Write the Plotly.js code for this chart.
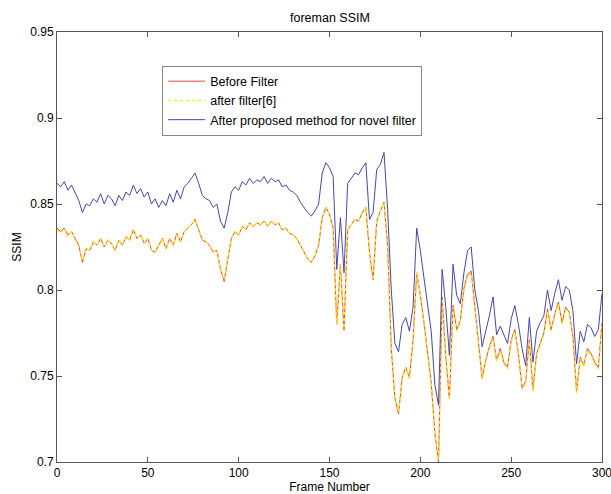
<!DOCTYPE html>
<html>
<head>
<meta charset="utf-8">
<script src="https://cdn.plot.ly/plotly-3.0.1.min.js"></script>
<style>html,body{margin:0;padding:0;background:#fff}#chart{width:611px;height:494px}</style>
</head>
<body>
<div id="chart"></div>
<script>
const frames = [0,2,4,6,8,10,12,14,16,18,20,22,24,26,28,30,32,34,36,38,40,42,44,46,48,50,52,54,56,58,60,62,64,66,68,70,72,74,76,78,80,82,84,86,88,90,92,94,96,98,100,102,104,106,108,110,112,114,116,118,120,122,124,126,128,130,132,134,136,138,140,142,144,146,148,150,152,154,156,158,160,162,164,166,168,170,172,174,176,178,180,182,184,186,188,190,192,194,196,198,200,202,204,206,208,210,212,214,216,218,220,222,224,226,228,230,232,234,236,238,240,242,244,246,248,250,252,254,256,258,260,262,264,266,268,270,272,274,276,278,280,282,284,286,288,290,292,294,296,298,300];

const beforeFilter = [0.836,0.834,0.836,0.832,0.834,0.830,0.826,0.816,0.824,0.823,0.828,0.826,0.830,0.825,0.829,0.827,0.823,0.829,0.826,0.831,0.829,0.835,0.830,0.832,0.827,0.830,0.823,0.822,0.826,0.830,0.824,0.830,0.826,0.833,0.828,0.834,0.836,0.838,0.841,0.835,0.829,0.828,0.826,0.822,0.823,0.812,0.805,0.818,0.830,0.834,0.832,0.837,0.835,0.839,0.837,0.839,0.838,0.840,0.837,0.840,0.838,0.839,0.835,0.836,0.833,0.832,0.830,0.826,0.822,0.818,0.816,0.820,0.826,0.842,0.848,0.844,0.836,0.780,0.815,0.777,0.835,0.838,0.841,0.840,0.845,0.848,0.822,0.806,0.840,0.846,0.851,0.826,0.766,0.737,0.728,0.749,0.755,0.749,0.771,0.810,0.797,0.781,0.762,0.746,0.717,0.700,0.796,0.761,0.737,0.791,0.777,0.782,0.801,0.809,0.811,0.791,0.771,0.749,0.759,0.767,0.773,0.759,0.766,0.758,0.755,0.771,0.777,0.763,0.743,0.747,0.771,0.742,0.763,0.769,0.775,0.789,0.777,0.786,0.793,0.781,0.790,0.787,0.773,0.741,0.761,0.756,0.766,0.763,0.758,0.755,0.781];

const afterFilter6 = [0.835,0.833,0.836,0.831,0.834,0.829,0.825,0.817,0.824,0.823,0.828,0.826,0.830,0.825,0.829,0.827,0.823,0.829,0.826,0.831,0.829,0.835,0.830,0.832,0.827,0.830,0.823,0.822,0.826,0.830,0.824,0.830,0.826,0.833,0.828,0.834,0.836,0.838,0.841,0.835,0.829,0.828,0.826,0.822,0.823,0.812,0.806,0.818,0.830,0.834,0.832,0.837,0.835,0.839,0.837,0.839,0.838,0.840,0.837,0.840,0.838,0.839,0.835,0.836,0.833,0.832,0.830,0.826,0.822,0.818,0.816,0.820,0.826,0.842,0.848,0.844,0.836,0.780,0.815,0.776,0.835,0.838,0.841,0.840,0.845,0.848,0.822,0.806,0.840,0.846,0.851,0.826,0.765,0.737,0.729,0.748,0.755,0.748,0.770,0.810,0.797,0.780,0.761,0.745,0.716,0.701,0.795,0.760,0.736,0.790,0.776,0.781,0.800,0.808,0.810,0.790,0.770,0.748,0.758,0.766,0.772,0.758,0.765,0.757,0.754,0.770,0.776,0.762,0.742,0.746,0.770,0.741,0.762,0.768,0.774,0.788,0.776,0.785,0.792,0.780,0.789,0.786,0.772,0.740,0.760,0.755,0.765,0.762,0.757,0.754,0.780];

const proposedMethod = [0.862,0.860,0.863,0.858,0.861,0.856,0.852,0.845,0.850,0.849,0.853,0.851,0.856,0.850,0.855,0.853,0.849,0.855,0.852,0.857,0.855,0.861,0.856,0.859,0.854,0.857,0.850,0.853,0.848,0.852,0.849,0.856,0.851,0.858,0.853,0.860,0.862,0.865,0.868,0.862,0.855,0.853,0.852,0.848,0.850,0.840,0.836,0.845,0.857,0.860,0.858,0.863,0.861,0.865,0.862,0.864,0.863,0.866,0.862,0.865,0.863,0.864,0.860,0.861,0.858,0.857,0.855,0.851,0.848,0.845,0.843,0.846,0.850,0.868,0.874,0.871,0.866,0.812,0.842,0.810,0.862,0.865,0.868,0.867,0.871,0.874,0.841,0.845,0.870,0.873,0.880,0.847,0.800,0.769,0.764,0.780,0.784,0.776,0.790,0.836,0.823,0.807,0.790,0.776,0.745,0.733,0.812,0.790,0.762,0.815,0.797,0.792,0.810,0.823,0.825,0.800,0.788,0.767,0.776,0.785,0.796,0.774,0.779,0.774,0.769,0.783,0.791,0.780,0.766,0.756,0.784,0.758,0.776,0.781,0.785,0.800,0.788,0.798,0.806,0.794,0.802,0.800,0.788,0.757,0.776,0.770,0.780,0.778,0.773,0.777,0.798];

const seriesNames = ['Before Filter', 'after filter[6]', 'After proposed method for novel filter'];
const yTicks = [0.7, 0.75, 0.8, 0.85, 0.9, 0.95];
const yTickText = ['0.7', '0.75', '0.8', '0.85', '0.9', '0.95'];
const xTicks = [0, 50, 100, 150, 200, 250, 300];

const font = {family: 'Liberation Sans, Arial, sans-serif', size: 12, color: '#000'};

const traces = [
  {x: frames, y: beforeFilter, name: seriesNames[0], type: 'scatter', mode: 'lines',
   line: {color: '#e8463c', width: 1}},
  {x: frames, y: afterFilter6, name: seriesNames[1], type: 'scatter', mode: 'lines',
   line: {color: '#ffe81a', width: 1.5, dash: '3px,3px'}},
  {x: frames, y: proposedMethod, name: seriesNames[2], type: 'scatter', mode: 'lines',
   line: {color: '#4646b4', width: 1}}
];

const axisCommon = {
  showline: true, linecolor: '#555', linewidth: 1, mirror: 'ticks',
  ticks: 'inside', ticklen: 5, tickcolor: '#555', tickwidth: 1,
  showgrid: false, zeroline: false, tickfont: font, ticklabeloverflow: 'allow'
};

const layout = {
  width: 611, height: 494,
  margin: {l: 57, r: 9, t: 32, b: 32, pad: 0},
  paper_bgcolor: '#fff', plot_bgcolor: '#fff',
  font: font,
  title: {text: 'foreman SSIM', font: {family: font.family, size: 12.5, color: '#000'},
          x: 0.54, xref: 'container', xanchor: 'center', y: 0.964, yref: 'container', yanchor: 'middle'},
  xaxis: Object.assign({}, axisCommon, {
    range: [0, 300], tickvals: xTicks,
    title: {text: 'Frame Number', font: font, standoff: 2}
  }),
  yaxis: Object.assign({}, axisCommon, {
    range: [0.7, 0.95], tickvals: yTicks, ticktext: yTickText,
    title: {text: 'SSIM', font: font, standoff: 6}
  }),
  showlegend: true,
  legend: {x: 0.193, y: 0.922, xanchor: 'left', yanchor: 'top',
           bordercolor: '#888', borderwidth: 1, bgcolor: '#fff',
           font: {family: font.family, size: 12.5, color: '#000'},
           tracegroupgap: 0, itemwidth: 37}
};

Plotly.newPlot('chart', traces, layout, {displayModeBar: false, staticPlot: true});
</script>
</body>
</html>
